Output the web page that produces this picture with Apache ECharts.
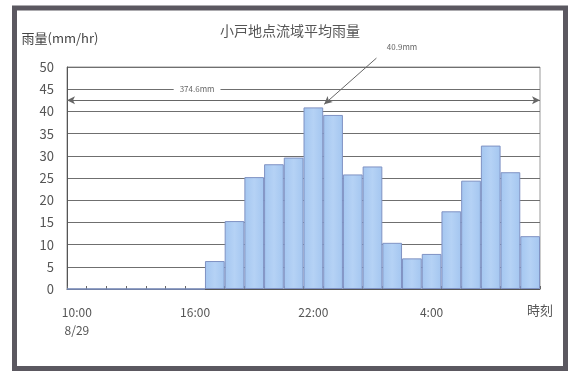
<!DOCTYPE html>
<html>
<head>
<meta charset="utf-8">
<script src="https://cdn.jsdelivr.net/npm/echarts@6/dist/echarts.min.js"></script>
<style>
  html, body { margin: 0; padding: 0; background: #fff; }
  #chart { width: 580px; height: 374px; }
</style>
</head>
<body>
<div id="chart"></div>
<script>
// Hourly basin-average rainfall at 小戸, 10:00 8/29 through 9:00 the next morning
const hours = ['10:00','11:00','12:00','13:00','14:00','15:00','16:00','17:00','18:00','19:00','20:00','21:00',
               '22:00','23:00','0:00','1:00','2:00','3:00','4:00','5:00','6:00','7:00','8:00','9:00'];
const rainfall = [0, 0, 0, 0, 0, 0, 0, 6.3, 15.3, 25.2, 28.1, 29.6, 40.9, 39.2, 25.8, 27.6,
                  10.4, 6.9, 7.9, 17.5, 24.4, 32.3, 26.3, 11.9];
const startDate = '8/29';
const yTicks = { min: 0, max: 50, step: 5 };

// annotation values (hour index along x, rainfall units along y)
const totalLabel = '374.6mm';
const peakLabel = '40.9mm';
const peakArrow = { from: [15.7, 52.0], to: [13.05, 41.6], text: [17.0, 54.6] };
const spanArrowLevel = 42.5;
const totalLabelPos = [6.6, 45];
const annotationTop = 57;   // annotation layer reaches above the plot top

const FONT = '"Noto Sans CJK JP", "Noto Sans", sans-serif';
const TEXT = '#555';

// plot frame in pixels
const plot = { left: 67, right: 40, top: 67, bottom: 85 };
const plotHeight = 374 - plot.top - plot.bottom;
const pxPerUnit = plotHeight / (yTicks.max - yTicks.min);
const annoTop = plot.top - (annotationTop - yTicks.max) * pxPerUnit;

const chart = echarts.init(document.getElementById('chart'), null, { renderer: 'canvas' });

chart.setOption({
  animation: false,
  backgroundColor: '#fff',
  textStyle: { fontFamily: FONT },
  title: {
    text: '小戸地点流域平均雨量',
    left: 'center',
    top: 19,
    textStyle: { fontFamily: FONT, fontSize: 14, fontWeight: 'normal', color: TEXT }
  },
  grid: [{
    left: plot.left, right: plot.right, top: plot.top, bottom: plot.bottom,
    show: true, borderColor: '#999', borderWidth: 1, backgroundColor: '#fff'
  }, {
    // same footprint, taller: carries the annotation arrows and labels
    left: plot.left, right: plot.right, top: annoTop, bottom: plot.bottom,
    show: false
  }],
  xAxis: [{
    type: 'category',
    gridIndex: 0,
    data: hours,
    boundaryGap: true,
    name: '時刻',
    nameLocation: 'end',
    nameGap: 0,
    nameTextStyle: { fontFamily: FONT, fontSize: 13, color: TEXT, align: 'center', verticalAlign: 'top', padding: [15, 0, 0, 0] },
    axisLine: { lineStyle: { color: '#555', width: 1 } },
    axisTick: { show: true, inside: true, length: 3, interval: 0, lineStyle: { color: '#666' } },
    axisLabel: {
      interval: 5,
      margin: 14,
      color: TEXT,
      fontSize: 12,
      lineHeight: 18,
      fontFamily: FONT,
      formatter: (v, i) => (i === 0 ? v + '\n' + startDate : v)
    },
    splitLine: { show: false }
  }, {
    type: 'value',
    gridIndex: 1,
    min: 0, max: hours.length,
    show: false
  }],
  yAxis: [{
    type: 'value',
    gridIndex: 0,
    min: yTicks.min, max: yTicks.max, interval: yTicks.step,
    name: '雨量(mm/hr)',
    nameLocation: 'end',
    nameGap: 29,
    nameTextStyle: { fontFamily: FONT, fontSize: 13, color: '#444', align: 'center', verticalAlign: 'middle', padding: [0, 14, 0, 0] },
    axisLine: { show: true, lineStyle: { color: '#555' } },
    axisTick: { show: false },
    axisLabel: { color: TEXT, fontSize: 13, margin: 13, fontFamily: FONT },
    splitLine: { show: true, lineStyle: { color: '#6f6f6f', width: 1 } }
  }, {
    type: 'value',
    gridIndex: 1,
    min: yTicks.min, max: annotationTop,
    show: false
  }],
  series: [{
    type: 'bar',
    xAxisIndex: 0,
    yAxisIndex: 0,
    data: rainfall,
    barCategoryGap: '0%',
    itemStyle: {
      color: new echarts.graphic.LinearGradient(0, 0, 1, 0, [
        { offset: 0, color: '#a4c6f0' },
        { offset: 0.5, color: '#b5d2f5' },
        { offset: 1, color: '#a4c6f0' }
      ]),
      borderColor: '#7f92c3',
      borderWidth: 1
    }
  }, {
    type: 'line',
    xAxisIndex: 1,
    yAxisIndex: 1,
    data: [],
    silent: true,
    markLine: {
      silent: true,
      animation: false,
      symbol: ['arrow', 'arrow'],
      symbolSize: [6, 8],
      label: { show: false },
      lineStyle: { color: '#666', width: 1, type: 'solid' },
      data: [
        [
          { coord: [0, spanArrowLevel] },
          { coord: [hours.length, spanArrowLevel] }
        ],
        [
          { coord: peakArrow.from, symbol: 'none' },
          { coord: peakArrow.to, symbol: 'arrow' }
        ]
      ]
    },
    markPoint: {
      silent: true,
      symbol: 'rect',
      symbolSize: 0,
      data: [
        {
          coord: totalLabelPos,
          label: {
            show: true, formatter: totalLabel, color: '#666', fontSize: 8,
            backgroundColor: '#fff', padding: [1, 6], position: 'inside'
          }
        },
        {
          coord: peakArrow.text,
          label: { show: true, formatter: peakLabel, color: '#666', fontSize: 8, position: 'inside' }
        }
      ]
    }
  }],
  graphic: [{
    type: 'rect',
    silent: true,
    shape: { x: 14.5, y: 8, width: 551, height: 360.5 },
    style: { fill: 'none', stroke: '#5b5860', lineWidth: 5 },
    z: 100
  }]
});
</script>
</body>
</html>
